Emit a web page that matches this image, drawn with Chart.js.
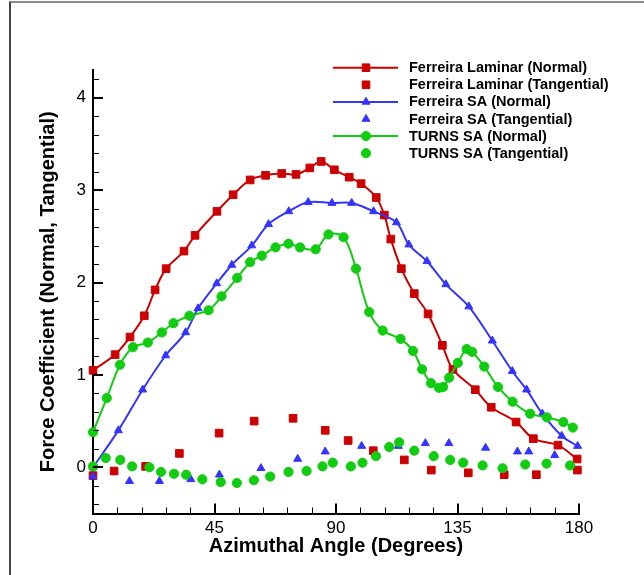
<!DOCTYPE html>
<html>
<head>
<meta charset="utf-8">
<script src="https://cdn.jsdelivr.net/npm/chart.js@4.4.0/dist/chart.umd.min.js"></script>
<style>
html,body{margin:0;padding:0;background:#fff;overflow:hidden;}
#wrap{position:relative;width:644px;height:575px;overflow:hidden;background:#fff;}
#frame{position:absolute;left:9px;top:1px;right:-20px;bottom:-20px;border-top:2px solid #8a8a8a;border-left:2px solid #444;}
canvas{position:absolute;left:0;top:0;}
</style>
</head>
<body>
<div id="wrap">
<div id="frame"></div>
<canvas id="c" width="644" height="575"></canvas>
</div>
<script>
// ---- tick labels ----
const angleTicks = [0, 45, 90, 135, 180];
const forceTicks = [0, 1, 2, 3, 4];

// ---- series names ----
const seriesNames = [
  'Ferreira Laminar (Normal)',
  'Ferreira Laminar (Tangential)',
  'Ferreira SA (Normal)',
  'Ferreira SA (Tangential)',
  'TURNS SA (Normal)',
  'TURNS SA (Tangential)'
];

// ---- Ferreira Laminar (Normal) ----
const lamNormAngle = [0, 8.2, 13.7, 19.0, 23.0, 27.1, 33.7, 37.8, 45.9, 51.9, 58.2, 63.9, 69.9, 75.2, 80.3, 84.5, 89.4, 94.9, 99.3, 104.9, 107.9, 110.3, 114.2, 119.0, 124.1, 129.4, 133.3, 141.6, 147.5, 156.7, 163.1, 172.2, 179.3];
const lamNormValue = [1.05, 1.22, 1.41, 1.64, 1.92, 2.15, 2.34, 2.51, 2.77, 2.95, 3.11, 3.16, 3.18, 3.17, 3.24, 3.31, 3.22, 3.14, 3.07, 2.92, 2.73, 2.47, 2.15, 1.88, 1.66, 1.32, 1.06, 0.84, 0.65, 0.49, 0.31, 0.24, 0.09];

// ---- Ferreira Laminar (Tangential) ----
const lamTanAngle = [0, 7.8, 19.5, 32.0, 46.7, 59.7, 74.1, 86.0, 94.5, 103.8, 115.3, 125.3, 139.0, 152.3, 164.2, 179.4];
const lamTanValue = [-0.09, -0.04, 0.01, 0.15, 0.37, 0.50, 0.53, 0.40, 0.29, 0.18, 0.08, -0.03, -0.06, -0.08, -0.08, -0.03];

// ---- Ferreira SA (Normal) ----
const saNormAngle = [0, 9.4, 18.4, 26.9, 34.3, 38.9, 45.8, 51.4, 58.8, 65.0, 72.5, 79.7, 88.5, 95.8, 103.9, 112.4, 117.0, 123.7, 130.7, 139.2, 147.9, 155.3, 160.6, 166.4, 173.6, 179.5];
const saNormValue = [0.0, 0.40, 0.84, 1.21, 1.46, 1.72, 1.99, 2.19, 2.40, 2.63, 2.77, 2.87, 2.86, 2.86, 2.77, 2.65, 2.41, 2.23, 1.98, 1.74, 1.37, 1.04, 0.84, 0.58, 0.34, 0.23];

// ---- Ferreira SA (Tangential) ----
const saTanAngle = [0, 13.5, 24.6, 36.2, 46.8, 62.2, 75.8, 86.0, 99.5, 113.1, 123.1, 131.8, 145.4, 157.2, 161.4, 171.0];
const saTanValue = [-0.10, -0.15, -0.15, -0.13, -0.08, -0.01, 0.09, 0.17, 0.23, 0.23, 0.26, 0.26, 0.21, 0.17, 0.17, 0.13];

// ---- TURNS SA (Normal) ----
const turnsNormAngle = [0, 5.1, 10.0, 14.8, 20.3, 25.5, 29.8, 35.7, 42.8, 47.6, 53.4, 58.2, 62.5, 67.6, 72.4, 76.7, 82.5, 87.2, 92.8, 97.4, 102.3, 107.3, 113.9, 118.5, 121.9, 125.2, 128.1, 129.7, 131.9, 135.1, 138.4, 140.4, 144.9, 150.0, 155.4, 161.9, 168.1, 174.2, 177.7];
const turnsNormValue = [0.38, 0.75, 1.11, 1.30, 1.35, 1.46, 1.56, 1.64, 1.70, 1.85, 2.05, 2.22, 2.29, 2.38, 2.42, 2.38, 2.36, 2.52, 2.49, 2.15, 1.68, 1.48, 1.39, 1.26, 1.06, 0.91, 0.86, 0.87, 0.97, 1.13, 1.28, 1.25, 1.09, 0.87, 0.71, 0.58, 0.54, 0.49, 0.43];

// ---- TURNS SA (Tangential) ----
const turnsTanAngle = [0, 4.7, 10.1, 14.5, 20.9, 25.2, 30.0, 34.5, 40.5, 47.3, 53.3, 59.6, 65.6, 72.4, 79.1, 85.0, 88.8, 95.5, 99.8, 104.8, 109.7, 113.4, 119.0, 126.2, 132.3, 137.1, 144.3, 151.7, 160.1, 168.0, 176.7];
const turnsTanValue = [0.01, 0.10, 0.08, 0.01, 0.00, -0.05, -0.07, -0.08, -0.13, -0.16, -0.17, -0.14, -0.10, -0.05, -0.04, 0.01, 0.05, 0.01, 0.05, 0.12, 0.22, 0.27, 0.18, 0.12, 0.08, 0.05, 0.02, -0.01, 0.03, 0.04, 0.02];

const RED = '#cc0000', BLUE = '#3434ff', GREEN = '#11cc11';
const FONT = '"Liberation Sans", Arial, Helvetica, sans-serif';

function pts(a, v) { return a.map((x, i) => ({ x: x, y: v[i] })); }

function lineSet(label, a, v, color, style, radius, order) {
  return { label, data: pts(a, v), showLine: true, borderColor: color, backgroundColor: color,
    borderWidth: 2, pointStyle: style, pointRadius: radius, pointBorderWidth: 1,
    pointBorderColor: color, pointBackgroundColor: color, tension: 0.35, clip: false, order };
}
function dotSet(label, a, v, color, style, radius, order) {
  return { label, data: pts(a, v), showLine: false, borderColor: color, backgroundColor: color,
    pointStyle: style, pointRadius: radius, pointBorderWidth: 1,
    pointBorderColor: color, pointBackgroundColor: color, clip: false, order };
}

const datasets = [
  lineSet(seriesNames[0], lamNormAngle, lamNormValue, RED, 'rect', 5.4, 6),
  dotSet(seriesNames[1], lamTanAngle, lamTanValue, RED, 'rect', 5.4, 5),
  lineSet(seriesNames[2], saNormAngle, saNormValue, BLUE, 'triangle', 4.6, 4),
  dotSet(seriesNames[3], saTanAngle, saTanValue, BLUE, 'triangle', 4.6, 3),
  lineSet(seriesNames[4], turnsNormAngle, turnsNormValue, GREEN, 'circle', 4.6, 2),
  dotSet(seriesNames[5], turnsTanAngle, turnsTanValue, GREEN, 'circle', 4.6, 1)
];

function drawMarker(ctx, style, r, x, y) {
  ctx.beginPath();
  if (style === 'rect') {
    const s = r * Math.SQRT1_2;
    ctx.rect(x - s, y - s, 2 * s, 2 * s);
  } else if (style === 'triangle') {
    ctx.moveTo(x, y - r);
    ctx.lineTo(x + Math.sin(2 * Math.PI / 3) * r, y - Math.cos(2 * Math.PI / 3) * r);
    ctx.lineTo(x + Math.sin(4 * Math.PI / 3) * r, y - Math.cos(4 * Math.PI / 3) * r);
    ctx.closePath();
  } else {
    ctx.arc(x, y, r, 0, Math.PI * 2);
  }
  ctx.fill();
  ctx.stroke();
}

const legendPlugin = {
  id: 'customLegend',
  afterDraw(chart) {
    const ctx = chart.ctx;
    ctx.save();
    chart.data.datasets.forEach((d, i) => {
      const y = 67.7 + i * 17.1;
      ctx.strokeStyle = d.borderColor;
      ctx.fillStyle = d.backgroundColor;
      if (d.showLine) {
        ctx.lineWidth = 2;
        ctx.beginPath();
        ctx.moveTo(333, y);
        ctx.lineTo(398, y);
        ctx.stroke();
      }
      ctx.lineWidth = 1;
      drawMarker(ctx, d.pointStyle, d.pointRadius, 366, y);
      ctx.fillStyle = '#000';
      ctx.font = 'bold 14.5px ' + FONT;
      ctx.textAlign = 'left';
      ctx.textBaseline = 'middle';
      ctx.fillText(d.label, 409, y + 0.5);
    });
    ctx.restore();
  }
};

const X_MINOR = 9, X_MAJOR = 45, Y_MINOR = 0.2;
const tickPlugin = {
  id: 'inwardTicks',
  afterDatasetsDraw(chart) {
    const ctx = chart.ctx, a = chart.chartArea;
    const xs = chart.scales.x, ys = chart.scales.y;
    ctx.save();
    ctx.strokeStyle = '#000';
    for (let k = 0; k * X_MINOR <= xs.max + 1e-9; k++) {
      const v = k * X_MINOR;
      const major = (k * X_MINOR) % X_MAJOR === 0;
      const px = Math.round(xs.getPixelForValue(v));
      ctx.lineWidth = major ? 2 : 1;
      ctx.beginPath();
      ctx.moveTo(major ? px : px + 0.5, a.bottom);
      ctx.lineTo(major ? px : px + 0.5, a.bottom - (major ? 10 : 6));
      ctx.stroke();
    }
    const kMin = Math.ceil(ys.min / Y_MINOR - 1e-9), kMax = Math.floor(ys.max / Y_MINOR + 1e-9);
    for (let k = kMin; k <= kMax; k++) {
      const v = k * Y_MINOR;
      const major = k % 5 === 0;
      const py = Math.round(ys.getPixelForValue(v));
      ctx.lineWidth = major ? 2 : 1;
      ctx.beginPath();
      ctx.moveTo(a.left, major ? py : py + 0.5);
      ctx.lineTo(a.left + (major ? 10 : 6), major ? py : py + 0.5);
      ctx.stroke();
    }
    ctx.restore();
  }
};

new Chart(document.getElementById('c'), {
  type: 'scatter',
  data: { datasets },
  plugins: [tickPlugin, legendPlugin],
  options: {
    responsive: false,
    animation: false,
    devicePixelRatio: 1,
    layout: { padding: { left: 0, right: 65, top: 70, bottom: 0 } },
    plugins: { legend: { display: false }, tooltip: { enabled: false } },
    scales: {
      x: {
        type: 'linear', min: 0, max: 180,
        afterBuildTicks: s => { s.ticks = angleTicks.map(v => ({ value: v })); },
        afterFit: s => { s.height = 61.5; },
        grid: { display: false, drawTicks: false },
        border: { display: true, color: '#000', width: 2 },
        ticks: { color: '#000', font: { family: FONT, size: 17 }, padding: 5, maxRotation: 0, autoSkip: false },
        title: { display: true, text: 'Azimuthal Angle (Degrees)', color: '#000',
          font: { family: FONT, size: 20, weight: 'bold' }, padding: { top: 0, bottom: 17 } }
      },
      y: {
        type: 'linear', min: -0.5, max: 4.3,
        afterBuildTicks: s => { s.ticks = forceTicks.map(v => ({ value: v })); },
        afterFit: s => { s.width = 93; },
        grid: { display: false, drawTicks: false },
        border: { display: true, color: '#000', width: 2 },
        ticks: { color: '#000', font: { family: FONT, size: 17 }, padding: 7, autoSkip: false },
        title: { display: true, text: 'Force Coefficient (Normal, Tangential)', color: '#000',
          font: { family: FONT, size: 20, weight: 'bold' }, padding: { top: 36, bottom: 0 } }
      }
    }
  }
});
</script>
</body>
</html>
